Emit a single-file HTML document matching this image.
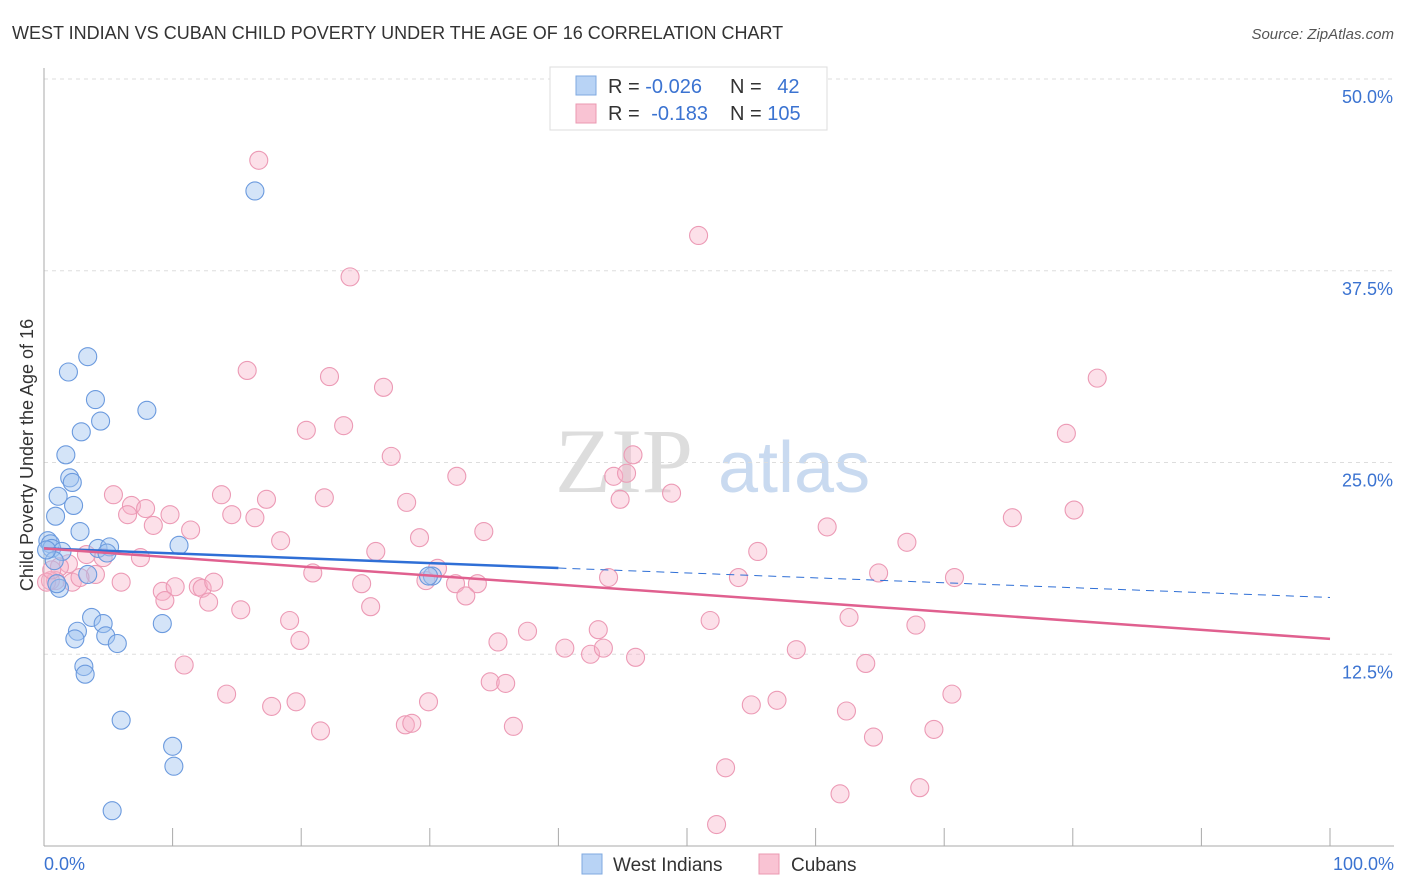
<!DOCTYPE html>
<html><head><meta charset="utf-8"><style>
body{margin:0;background:#fff;font-family:"Liberation Sans",sans-serif;}
svg{display:block}
</style></head><body>
<svg id="c" width="1406" height="892" xmlns="http://www.w3.org/2000/svg">
<text x="12" y="39" font-size="18" fill="#333">WEST INDIAN VS CUBAN CHILD POVERTY UNDER THE AGE OF 16 CORRELATION CHART</text>
<text x="1394" y="39" font-size="15" fill="#555" font-style="italic" text-anchor="end">Source: ZipAtlas.com</text>
<text x="33" y="455" font-size="18" fill="#333" text-anchor="middle" transform="rotate(-90 33 455)">Child Poverty Under the Age of 16</text>
<text x="555" y="492" font-size="92" fill="#ddd" font-family="Liberation Serif,serif">ZIP</text>
<text x="718" y="492" font-size="72" fill="#c9daf0">atlas</text>
<g id="grid"></g><g id="pts"></g><g id="trend"></g>
<g>
<rect x="550" y="67" width="277" height="63" fill="#fff" stroke="#ddd"/>
<rect x="576" y="76" width="20" height="19" fill="#b8d3f5" stroke="#7fa9e0"/>
<rect x="576" y="104" width="20" height="19" fill="#f9c3d3" stroke="#eb98b2"/>
<text x="608" y="93" font-size="20" fill="#333">R = <tspan fill="#3b73d1">-0.026</tspan></text>
<text x="730" y="93" font-size="20" fill="#333">N = <tspan fill="#3b73d1" dx="10">42</tspan></text>
<text x="608" y="120" font-size="20" fill="#333">R = <tspan fill="#3b73d1" dx="6">-0.183</tspan></text>
<text x="730" y="120" font-size="20" fill="#333">N = <tspan fill="#3b73d1">105</tspan></text>
</g>
<g>
<rect x="582" y="854" width="20" height="20" fill="#b8d3f5" stroke="#7fa9e0"/>
<text x="613" y="871" font-size="19" fill="#333">West Indians</text>
<rect x="759" y="854" width="20" height="20" fill="#f9c3d3" stroke="#eb98b2"/>
<text x="791" y="871" font-size="19" fill="#333">Cubans</text>
</g>
</svg>
<script>
const blueX=[16.4,3.4,1.9,4.0,8.0,4.4,2.9,1.7,2.0,2.2,1.1,2.3,0.9,2.8,0.3,0.5,0.6,1.4,4.2,5.1,4.9,10.5,3.4,1.2,1.0,30.2,29.9,3.7,9.2,4.6,2.6,2.4,4.8,5.7,3.1,3.2,6.0,10.0,10.1,5.3,0.8,0.2];
const blueY=[42.7,31.9,30.9,29.1,28.4,27.7,27.0,25.5,24.0,23.7,22.8,22.2,21.5,20.5,19.9,19.7,19.4,19.2,19.4,19.5,19.1,19.6,17.7,16.8,17.1,17.6,17.6,14.9,14.5,14.5,14.0,13.5,13.7,13.2,11.7,11.2,8.2,6.5,5.2,2.3,18.6,19.3];
const pinkX=[16.7,50.9,23.8,15.8,22.2,26.4,81.9,20.4,23.3,79.5,27.0,45.8,32.1,44.3,45.3,5.4,13.8,17.3,21.8,6.8,7.9,48.8,28.2,44.8,6.5,9.8,14.6,16.4,8.5,11.4,34.2,60.9,80.1,75.3,18.4,29.2,67.1,25.8,55.5,7.5,3.3,4.6,1.9,1.2,0.9,4.0,0.5,2.2,2.8,6.0,9.2,10.2,12.0,12.3,13.2,9.4,12.8,20.9,24.7,29.7,30.6,32.0,33.7,32.8,43.9,54.0,64.9,70.8,15.3,25.4,19.1,19.9,51.8,62.6,67.8,37.6,43.1,35.3,40.5,42.5,43.5,46.0,58.5,63.9,10.9,34.7,35.9,14.2,19.6,17.7,29.9,55.0,57.0,70.6,62.4,21.5,28.1,28.6,36.5,64.5,69.2,53.0,61.9,68.1,52.3,0.2,0.6];
const pinkY=[44.7,39.8,37.1,31.0,30.6,29.9,30.5,27.1,27.4,26.9,25.4,25.5,24.1,24.1,24.3,22.9,22.9,22.6,22.7,22.2,22.0,23.0,22.4,22.6,21.6,21.6,21.6,21.4,20.9,20.6,20.5,20.8,21.9,21.4,19.9,20.1,19.8,19.2,19.2,18.8,19.0,18.8,18.4,18.2,17.3,17.7,17.3,17.2,17.5,17.2,16.6,16.9,16.9,16.8,17.2,16.0,15.9,17.8,17.1,17.3,18.1,17.1,17.1,16.3,17.5,17.5,17.8,17.5,15.4,15.6,14.7,13.4,14.7,14.9,14.4,14.0,14.1,13.3,12.9,12.5,12.9,12.3,12.8,11.9,11.8,10.7,10.6,9.9,9.4,9.1,9.4,9.2,9.5,9.9,8.8,7.5,7.9,8.0,7.8,7.1,7.6,5.1,3.4,3.8,1.4,17.2,18.0];
const yTicks=[12.5,25.0,37.5,50.0];
const blueTrend=[19.4,16.2];
const pinkTrend=[19.4,13.5];
const NS="http://www.w3.org/2000/svg";
const sx=v=>44+v*12.86, sy=v=>846-v*15.34;
function mk(t,a,p){const e=document.createElementNS(NS,t);for(const k in a)e.setAttribute(k,a[k]);p.appendChild(e);return e;}
const grid=document.getElementById('grid');
yTicks.forEach(t=>{
 const l=mk('line',{x1:44,x2:1394,y1:sy(t),y2:sy(t),stroke:'#ddd','stroke-dasharray':'4,4'},grid);
 
 
 const tx=mk('text',{x:1393,y:sy(t)+24,'font-size':18,fill:'#3b73d1','text-anchor':'end'},grid);
 tx.textContent=t.toFixed(1)+'%';
 
 
});
const ax=mk('line',{x1:44,x2:44,y1:68,y2:846,stroke:'#aaa'},grid);


const bx=mk('line',{x1:44,x2:1394,y1:846,y2:846,stroke:'#aaa'},grid);


for(let i=1;i<=10;i++){const t=mk('line',{x1:sx(i*10),x2:sx(i*10),y1:828,y2:846,stroke:'#aaa'},grid);
 
 }
[[0,'0.0%','start',44],[100,'100.0%','end',1394]].forEach(d=>{const t=mk('text',{x:d[3],y:870,'font-size':18,fill:'#3b73d1','text-anchor':d[2]},grid);t.textContent=d[1];
 
 });
const pts=document.getElementById('pts');
pinkX.forEach((x,i)=>{const c=mk('circle',{cx:sx(x),cy:sy(pinkY[i]),r:9,fill:'rgba(247,178,200,0.4)',stroke:'#ec9ab5','stroke-width':1.1},pts);
 
 });
blueX.forEach((x,i)=>{const c=mk('circle',{cx:sx(x),cy:sy(blueY[i]),r:9,fill:'rgba(160,196,240,0.45)',stroke:'#6b9ade','stroke-width':1.1},pts);
 
 });
const tr=document.getElementById('trend');
const bAt=x=>blueTrend[0]+(blueTrend[1]-blueTrend[0])*x/100;
let l1=mk('line',{x1:sx(0),y1:sy(bAt(0)),x2:sx(40),y2:sy(bAt(40)),stroke:'#2f6fd6','stroke-width':2.5},tr);


let l2=mk('line',{x1:sx(40),y1:sy(bAt(40)),x2:sx(100),y2:sy(bAt(100)),stroke:'#2f6fd6','stroke-width':1,'stroke-dasharray':'8,6'},tr);


let l3=mk('line',{x1:sx(0),y1:sy(pinkTrend[0]),x2:sx(100),y2:sy(pinkTrend[1]),stroke:'#e0608f','stroke-width':2.5},tr);


</script>
</body></html>
